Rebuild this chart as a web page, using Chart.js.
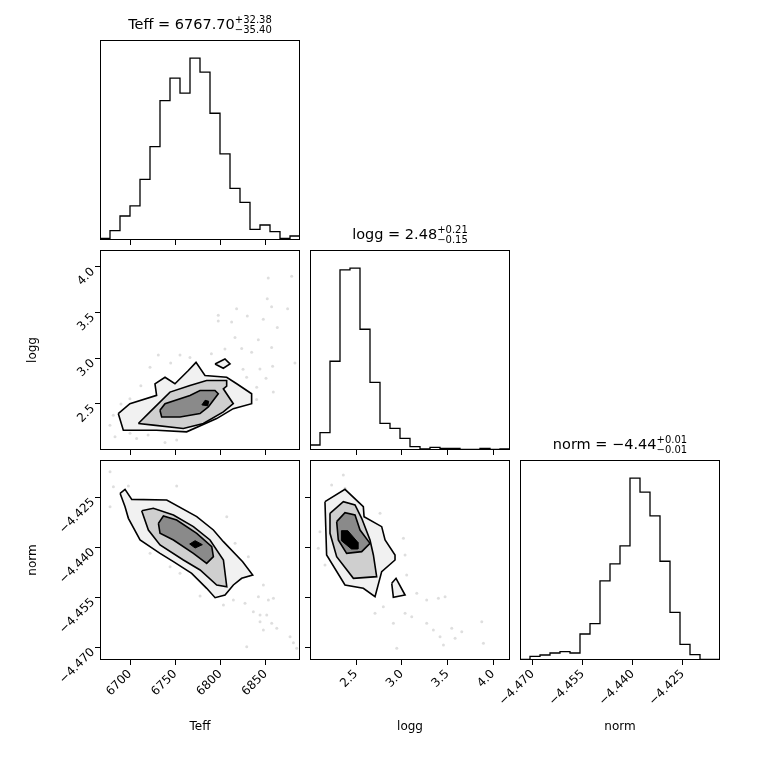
<!DOCTYPE html>
<html>
<head>
<meta charset="utf-8">
<script src="https://cdn.jsdelivr.net/npm/chart.js@4.4.0/dist/chart.umd.min.js"></script>
<style>
  body { margin: 0; background: #fff; }
  #wrap { position: relative; width: 760px; height: 760px; }
  canvas { position: absolute; left: 0; top: 0; }
</style>
</head>
<body>
<div id="wrap"></div>
<script>
// --- data ---
const teffRange = [6666.8, 6888];
const loggRange = [1.996, 4.186];
const normRange = [-4.4738, -4.4138];

const teffTicks = [6700, 6750, 6800, 6850];
const loggTicks = [2.5, 3.0, 3.5, 4.0];
const normTicks = [-4.470, -4.455, -4.440, -4.425];

// 20-bin histograms
const teffHist = [5, 28, 72, 102, 182, 280, 418, 485, 440, 545, 503, 380, 258, 155, 113, 32, 45, 25, 5, 12];
const loggHist = [15, 52, 266, 540, 545, 362, 203, 80, 65, 35, 10, 3, 8, 5, 5, 2, 2, 5, 2, 3];
const normHist = [2, 11, 15, 21, 25, 21, 78, 109, 237, 288, 342, 545, 503, 432, 296, 143, 47, 16, 2, 2];

// Teff vs logg contours
const tlOuter = [[6687.0,2.395],[6699.9,2.503],[6729.4,2.594],[6727.6,2.721],[6738.7,2.793],[6749.7,2.721],[6764.5,2.866],[6773.0,2.956],[6782.9,2.811],[6806.9,2.793],[6818.0,2.721],[6834.5,2.612],[6834.5,2.503],[6814.2,2.449],[6795.8,2.340],[6762.6,2.195],[6729.4,2.213],[6692.6,2.213]];
const tlIsland = [[6794.0,2.938],[6805.0,2.992],[6810.6,2.938],[6803.2,2.891]];
const tlMiddle = [[6709.2,2.286],[6722.1,2.413],[6744.2,2.630],[6766.3,2.703],[6784.7,2.757],[6806.9,2.757],[6806.9,2.695],[6803.2,2.666],[6814.2,2.503],[6803.2,2.413],[6781.1,2.286],[6758.9,2.232],[6725.8,2.268]];
const tlInner = [[6733.1,2.431],[6738.7,2.503],[6766.3,2.594],[6777.4,2.648],[6794.0,2.648],[6797.6,2.612],[6786.6,2.467],[6777.4,2.395],[6755.3,2.358],[6735.0,2.358]];
const tlCore = [[6779.5,2.49],[6783.0,2.54],[6787.0,2.53],[6786.0,2.48]];
const tlPoints = [[6852.9,3.880],[6878.8,3.898],[6851.8,3.652],[6856.6,3.565],[6874.3,3.543],[6797.6,3.471],[6797.6,3.409],[6817.9,3.543],[6829.7,3.463],[6812.4,3.398],[6847.4,3.427],[6862.9,3.337],[6816.1,3.228],[6841.9,3.203],[6823.5,3.108],[6834.5,3.065],[6856.6,3.119],[6882.4,2.949],[6857.7,2.913],[6843.7,2.884],[6850.4,2.782],[6840.1,2.684],[6858.5,2.630],[6755.3,3.036],[6731.3,3.036],[6722.1,2.902],[6699.9,2.558],[6681.5,2.377],[6677.8,2.268],[6683.4,2.141],[6707.3,2.123],[6738.7,2.079],[6751.6,2.105],[6805.0,3.101],[6766.3,3.010],[6829.0,2.793],[6745.0,2.95],[6712.0,2.70],[6690.0,2.50],[6720.0,2.16],[6700.0,2.18],[6840.0,2.55],[6825.0,2.88],[6790.0,3.05]];

// Teff vs norm contours
const tnOuter = [[6689.0,-4.4238],[6694.5,-4.4226],[6701.9,-4.4256],[6740.6,-4.4258],[6773.8,-4.4308],[6792.2,-4.4348],[6803.3,-4.4383],[6824.6,-4.4443],[6835.7,-4.4483],[6823.5,-4.4493],[6814.3,-4.4513],[6805.1,-4.4543],[6794.1,-4.4551],[6784.8,-4.4523],[6768.2,-4.4478],[6748.0,-4.4443],[6733.2,-4.4418],[6711.1,-4.4378],[6698.2,-4.4313],[6694.5,-4.4278]];
const tnIsland = [[6819.9,-4.4483],[6829.1,-4.4478],[6830.9,-4.4486],[6821.7,-4.4490]];
const tnMiddle = [[6712.9,-4.4290],[6725.8,-4.4283],[6748.0,-4.4303],[6770.1,-4.4338],[6788.5,-4.4378],[6803.3,-4.4438],[6807.0,-4.4518],[6795.9,-4.4513],[6777.5,-4.4468],[6759.0,-4.4438],[6733.2,-4.4393],[6720.3,-4.4348]];
const tnInner = [[6731.4,-4.4328],[6736.9,-4.4306],[6751.6,-4.4318],[6773.8,-4.4358],[6790.4,-4.4398],[6792.2,-4.4428],[6784.8,-4.4448],[6770.1,-4.4418],[6748.0,-4.4378],[6733.2,-4.4358]];
const tnCore = [[6766.0,-4.4390],[6772.0,-4.4380],[6780.0,-4.4392],[6772.0,-4.4402]];
const tnPoints = [[6681.6,-4.4218],[6698.2,-4.4216],[6677.9,-4.4278],[6751.6,-4.4216],[6807.0,-4.4308],[6816.2,-4.4388],[6830.9,-4.4428],[6744.3,-4.4458],[6755.3,-4.4478],[6777.5,-4.4546],[6803.3,-4.4573],[6814.3,-4.4558],[6827.2,-4.4568],[6836.4,-4.4593],[6847.5,-4.4513],[6842.0,-4.4548],[6853.0,-4.4558],[6858.6,-4.4553],[6843.8,-4.4603],[6851.2,-4.4603],[6856.7,-4.4628],[6847.5,-4.4648],[6862.3,-4.4643],[6877.0,-4.4668],[6880.7,-4.4686],[6884.4,-4.4703],[6829.1,-4.4698],[6843.8,-4.4623],[6677.9,-4.4173],[6722.2,-4.4418]];

// logg vs norm contours
const lnOuter = [[2.160,-4.4263],[2.379,-4.4226],[2.580,-4.4278],[2.588,-4.4308],[2.781,-4.4338],[2.818,-4.4378],[2.927,-4.4423],[2.927,-4.4438],[2.781,-4.4473],[2.708,-4.4548],[2.580,-4.4523],[2.379,-4.4513],[2.178,-4.4423]];
const lnIsland = [[2.891,-4.4508],[2.938,-4.4493],[3.037,-4.4543],[2.909,-4.4550]];
const lnMiddle = [[2.215,-4.4298],[2.361,-4.4263],[2.489,-4.4273],[2.562,-4.4313],[2.653,-4.4378],[2.690,-4.4423],[2.726,-4.4488],[2.471,-4.4493],[2.288,-4.4428],[2.215,-4.4358]];
const lnInner = [[2.288,-4.4323],[2.379,-4.4296],[2.489,-4.4303],[2.544,-4.4348],[2.653,-4.4388],[2.562,-4.4413],[2.397,-4.4418],[2.306,-4.4378]];
const lnCore = [[2.34,-4.4350],[2.41,-4.4350],[2.52,-4.4385],[2.52,-4.4405],[2.45,-4.4405],[2.34,-4.4380]];
const lnPoints = [[2.361,-4.4183],[2.379,-4.4223],[2.233,-4.4213],[2.105,-4.4353],[2.087,-4.4403],[2.160,-4.4453],[2.379,-4.4468],[2.763,-4.4298],[3.019,-4.4373],[3.037,-4.4423],[3.055,-4.4483],[3.165,-4.4538],[3.274,-4.4558],[3.402,-4.4553],[3.475,-4.4548],[2.909,-4.4548],[2.799,-4.4578],[2.708,-4.4598],[2.909,-4.4628],[3.037,-4.4598],[3.110,-4.4608],[3.274,-4.4628],[3.347,-4.4648],[3.420,-4.4668],[3.548,-4.4643],[3.585,-4.4673],[3.658,-4.4653],[3.877,-4.4623],[3.895,-4.4688],[2.946,-4.4703],[3.457,-4.4693],[2.598,-4.4453]];

const FONT = 'DejaVu Sans';
const TICK_PX = 12;
const LABEL_PX = 12;
const fmtMinus = s => s.replace('-', '\u2212');
const formatters = {
    teff: v => String(Math.round(v)),
    logg: v => Number(v).toFixed(1),
    norm: v => fmtMinus(Number(v).toFixed(3))
};

const wrap = document.getElementById('wrap');
const AXW = 76; // space kept for y axis / x axis

// box around the plot area + rotated y tick labels + title
const panelPlugin = {
    id: 'panel',
    afterDraw(chart) {
        const o = chart.$panel;
        const a = chart.chartArea;
        const ctx = chart.ctx;
        ctx.save();
        ctx.strokeStyle = '#000';
        ctx.lineWidth = 1;
        ctx.strokeRect(a.left + 0.5, a.top + 0.5, a.right - a.left - 1, a.bottom - a.top - 1);
        if (o.yLabels) {
            const ys = chart.scales.y;
            const fmt = formatters[o.yLabels];
            ctx.font = TICK_PX + 'px ' + FONT;
            ctx.fillStyle = '#000';
            ctx.textAlign = 'right';
            ctx.textBaseline = 'middle';
            o.yTicks.forEach(v => {
                const py = ys.getPixelForValue(v);
                ctx.save();
                ctx.translate(a.left - 7, py + 3);
                ctx.rotate(-Math.PI / 4);
                ctx.fillText(fmt(v), 0, 0);
                ctx.restore();
            });
        }
        if (o.title) {
            const [main, up, down] = o.title;
            ctx.fillStyle = '#000';
            ctx.textBaseline = 'alphabetic';
            ctx.textAlign = 'left';
            ctx.font = '14.5px ' + FONT;
            const w1 = ctx.measureText(main).width;
            ctx.font = '10px ' + FONT;
            const w2 = Math.max(ctx.measureText(up).width, ctx.measureText(down).width);
            const x0 = (a.left + a.right) / 2 - (w1 + w2) / 2;
            const base = a.top - 11;
            ctx.font = '14.5px ' + FONT;
            ctx.fillText(main, x0, base);
            ctx.font = '10px ' + FONT;
            ctx.fillText(up, x0 + w1, base - 6);
            ctx.fillText(down, x0 + w1, base + 4);
        }
        ctx.restore();
    }
};

function xScale(range, ticks, fmtName, showLabels, title) {
    const fmt = formatters[fmtName];
    return {
        type: 'linear', min: range[0], max: range[1],
        afterBuildTicks: s => { s.ticks = ticks.map(v => ({ value: v })); },
        afterFit: s => { s.height = AXW; },
        grid: { display: true, drawOnChartArea: false, drawTicks: true, tickLength: 5, color: '#000' },
        border: { display: false },
        ticks: {
            display: showLabels, maxRotation: 45, minRotation: 45, color: '#000',
            font: { family: FONT, size: TICK_PX }, padding: 2,
            callback: v => fmt(v)
        },
        title: { display: !!title, text: title || '', color: '#000', font: { family: FONT, size: LABEL_PX }, padding: { top: 0, bottom: 2 } }
    };
}

function yScale(range, ticks, title) {
    return {
        type: 'linear', min: range[0], max: range[1],
        afterBuildTicks: s => { s.ticks = (ticks || []).map(v => ({ value: v })); },
        afterFit: s => { s.width = AXW; },
        grid: { display: !!ticks, drawOnChartArea: false, drawTicks: true, tickLength: 5, color: '#000' },
        border: { display: false },
        ticks: { display: false },
        title: { display: !!title, text: title || '', color: '#000', font: { family: FONT, size: LABEL_PX }, padding: { top: 2, bottom: 0 } }
    };
}

function makeChart(left, top, datasets, scales, panelOpts) {
    const c = document.createElement('canvas');
    c.width = 760; c.height = 760;
    c.style.width = '760px'; c.style.height = '760px';
    wrap.appendChild(c);
    const chart = new Chart(c, {
        type: 'scatter',
        data: { datasets },
        options: {
            responsive: false, animation: false, events: [],
            layout: { padding: { left: left - AXW, top: top, right: 760 - left - 200, bottom: 760 - top - 200 - AXW } },
            scales,
            plugins: { legend: { display: false }, tooltip: { enabled: false } }
        },
        plugins: [{ id: 'setPanel', beforeInit(ch) { ch.$panel = panelOpts; } }, panelPlugin]
    });
    return chart;
}

function histData(counts, range) {
    const w = (range[1] - range[0]) / counts.length;
    const pts = [{ x: range[0], y: 0 }];
    counts.forEach((c, i) => {
        pts.push({ x: range[0] + i * w, y: c });
        pts.push({ x: range[0] + (i + 1) * w, y: c });
    });
    return [{ data: pts, showLine: true, borderColor: '#000', borderWidth: 1.3, pointRadius: 0, fill: false }];
}

const toXY = arr => arr.map(p => ({ x: p[0], y: p[1] }));
const closed = arr => toXY(arr.concat([arr[0]]));

function contourSets(outer, island, middle, inner, core, points) {
    const poly = (arr, fillCol, order, lw) => ({
        data: closed(arr), showLine: true, pointRadius: 0,
        borderColor: '#000', borderWidth: lw, backgroundColor: fillCol, fill: 'shape', order
    });
    return [
        { data: toXY(points), pointRadius: 1.5, pointBorderWidth: 0, backgroundColor: 'rgba(0,0,0,0.13)', order: 10 },
        poly(outer, '#f1f1f1', 6, 1.6),
        poly(island, '#f1f1f1', 6, 1.6),
        poly(middle, '#cfcfcf', 5, 1.6),
        poly(inner, '#8a8a8a', 4, 1.6),
        { data: closed(core), showLine: true, pointRadius: 0, borderColor: '#000', borderWidth: 1, backgroundColor: '#000', fill: 'shape', order: 3 }
    ];
}

const histY = max => [0, max * 1.1];

// row 1
makeChart(100, 40, histData(teffHist, teffRange), {
    x: xScale(teffRange, teffTicks, 'teff', false),
    y: yScale(histY(545))
}, { title: ['Teff = 6767.70', '+32.38', '\u221235.40'] });

// row 2
makeChart(100, 250, contourSets(tlOuter, tlIsland, tlMiddle, tlInner, tlCore, tlPoints), {
    x: xScale(teffRange, teffTicks, 'teff', false),
    y: yScale(loggRange, loggTicks, 'logg')
}, { yLabels: 'logg', yTicks: loggTicks });

makeChart(310, 250, histData(loggHist, loggRange), {
    x: xScale(loggRange, loggTicks, 'logg', false),
    y: yScale(histY(545))
}, { title: ['logg = 2.48', '+0.21', '\u22120.15'] });

// row 3
makeChart(100, 460, contourSets(tnOuter, tnIsland, tnMiddle, tnInner, tnCore, tnPoints), {
    x: xScale(teffRange, teffTicks, 'teff', true, 'Teff'),
    y: yScale(normRange, normTicks, 'norm')
}, { yLabels: 'norm', yTicks: normTicks });

makeChart(310, 460, contourSets(lnOuter, lnIsland, lnMiddle, lnInner, lnCore, lnPoints), {
    x: xScale(loggRange, loggTicks, 'logg', true, 'logg'),
    y: yScale(normRange, normTicks)
}, {});

makeChart(520, 460, histData(normHist, normRange), {
    x: xScale(normRange, normTicks, 'norm', true, 'norm'),
    y: yScale(histY(545))
}, { title: ['norm = \u22124.44', '+0.01', '\u22120.01'] });
</script>
</body>
</html>
